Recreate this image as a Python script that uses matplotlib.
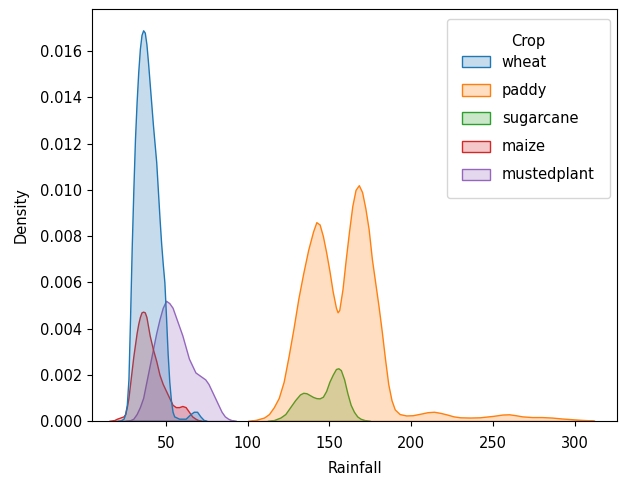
import matplotlib
matplotlib.use("Agg")
import matplotlib.pyplot as plt
from matplotlib.patches import Patch
from matplotlib.ticker import FormatStrFormatter

crops = ["wheat", "paddy", "sugarcane", "maize", "mustedplant"]
colors = ["#1f77b4", "#ff7f0e", "#2ca02c", "#d62728", "#9467bd"]

wheat_x = [20, 22, 24, 25, 26, 27, 28, 29, 30, 31, 32, 33, 34, 35, 36, 37, 38, 39, 40, 41, 42, 43, 44,
           45, 46, 47, 48, 49, 50, 51, 52, 53, 54, 55, 58, 62, 65, 67, 69, 71, 73, 75]
wheat_d = [0, 0.00002, 0.0001, 0.0003, 0.0007, 0.0018, 0.0045, 0.0075, 0.0100, 0.0122, 0.0138, 0.0151,
           0.0161, 0.0167, 0.0169, 0.0168, 0.0163, 0.0155, 0.0146, 0.0137, 0.0128, 0.0120, 0.0112,
           0.0100, 0.0088, 0.0077, 0.0068, 0.0060, 0.0045, 0.0029, 0.0017, 0.0009, 0.0004, 0.0002,
           0.0001, 0.0001, 0.0003, 0.0004, 0.0004, 0.0002, 0.00005, 0]

paddy_x = [100, 105, 110, 113, 116, 119, 122, 125, 128, 131, 134, 137, 140, 142, 144, 146, 148, 150,
           152, 154, 155, 156, 158, 160, 162, 164, 166, 168, 170, 172, 174, 176, 178, 180, 182, 184,
           186, 188, 190, 193, 197, 201, 206, 210, 214, 218, 222, 226, 230, 236, 242, 250, 256, 260,
           264, 268, 274, 280, 286, 292, 298, 304, 312]
paddy_d = [0, 0.00005, 0.00015, 0.0003, 0.0006, 0.0010, 0.0017, 0.0028, 0.0040, 0.0053, 0.0064, 0.0074,
           0.0082, 0.0086, 0.0085, 0.0080, 0.0073, 0.0065, 0.0056, 0.0049, 0.0047, 0.0048, 0.0057,
           0.0070, 0.0082, 0.0093, 0.0100, 0.0102, 0.0099, 0.0092, 0.0083, 0.0070, 0.0060, 0.0050,
           0.0039, 0.0027, 0.0016, 0.0009, 0.0005, 0.00030, 0.00024, 0.00025, 0.00032, 0.00038,
           0.00040, 0.00035, 0.00028, 0.00020, 0.00016, 0.00015, 0.00016, 0.00022, 0.00028, 0.00029,
           0.00025, 0.00020, 0.00017, 0.00017, 0.00015, 0.00011, 0.00008, 0.00005, 0.00002]

sugarcane_x = [112, 116, 120, 123, 126, 129, 132, 134, 136, 138, 140, 142, 144, 146, 148, 150, 152, 154,
               155.5, 157, 159, 161, 163, 165, 167, 169, 172, 175]
sugarcane_d = [0, 0.00004, 0.00015, 0.0003, 0.0006, 0.0009, 0.00115, 0.00122, 0.0012, 0.00112, 0.00104,
               0.00099, 0.00098, 0.00105, 0.0013, 0.0017, 0.0020, 0.00225, 0.00228, 0.0022, 0.0018,
               0.0012, 0.0007, 0.0004, 0.0002, 0.0001, 0.00003, 0]

maize_x = [15, 18, 20, 22, 24, 25, 26, 27, 28, 29, 30, 31, 32, 33, 34, 35, 36, 37, 38, 39, 40, 42, 44,
           45, 46, 48, 50, 52, 54, 56, 58, 60, 62, 64, 66, 68, 70, 72]
maize_d = [0, 0.00003, 0.0001, 0.00015, 0.0002, 0.0003, 0.0006, 0.0010, 0.0016, 0.0022, 0.0028, 0.0033,
           0.0038, 0.0042, 0.0045, 0.0047, 0.00473, 0.0047, 0.0045, 0.0041, 0.0037, 0.0031, 0.0026,
           0.0023, 0.0020, 0.0016, 0.0013, 0.0010, 0.0007, 0.0006, 0.0006, 0.00065, 0.0006, 0.0004,
           0.0002, 0.0001, 0.00003, 0]

mustedplant_x = [25, 28, 30, 32, 34, 36, 38, 40, 42, 44, 46, 48, 50, 52, 54, 56, 58, 60, 62, 64, 66, 68,
                 70, 72, 74, 76, 78, 80, 82, 84, 86, 88, 90, 93]
mustedplant_d = [0, 0.00003, 0.0001, 0.0003, 0.0006, 0.0010, 0.0017, 0.0024, 0.0031, 0.0038, 0.0044,
                 0.0049, 0.0052, 0.0051, 0.0049, 0.0045, 0.0041, 0.0037, 0.0032, 0.0027, 0.0024, 0.0021,
                 0.0020, 0.0019, 0.0018, 0.0016, 0.0013, 0.0010, 0.0007, 0.0004, 0.0002, 0.0001,
                 0.00004, 0]

series = {
    "wheat": (wheat_x, wheat_d),
    "paddy": (paddy_x, paddy_d),
    "sugarcane": (sugarcane_x, sugarcane_d),
    "maize": (maize_x, maize_d),
    "mustedplant": (mustedplant_x, mustedplant_d),
}

plt.rcParams["font.family"] = "DejaVu Sans"
fig = plt.figure(figsize=(6.19, 4.79), dpi=100)
ax = fig.add_axes([92 / 619, 58 / 479, 525 / 619, 412 / 479])

for crop, col in reversed(list(zip(crops, colors))):
    xs, ds = series[crop]
    ax.fill_between(xs, ds, 0, facecolor=matplotlib.colors.to_rgba(col, 0.25),
                    edgecolor=col, linewidth=1.0)

ax.set_xlim(4.7, 326)
ax.set_ylim(0, 0.01782)
ax.set_xticks([50, 100, 150, 200, 250, 300])
ax.set_yticks([0, 0.002, 0.004, 0.006, 0.008, 0.010, 0.012, 0.014, 0.016])
ax.yaxis.set_major_formatter(FormatStrFormatter("%.3f"))
ax.tick_params(labelsize=10.5)
ax.tick_params(axis="x", pad=7.5)
ax.set_xlabel("Rainfall", fontsize=10.5, labelpad=7)
ax.set_ylabel("Density", fontsize=10.5, labelpad=8)

handles = [Patch(facecolor=matplotlib.colors.to_rgba(c, 0.25), edgecolor=c, linewidth=1.0) for c in colors]
leg = ax.legend(handles, crops, title="Crop", loc="upper right",
                bbox_to_anchor=(610 / 619, (479 - 19) / 479), bbox_transform=fig.transFigure,
                borderaxespad=0, fontsize=10.5, title_fontsize=10.5,
                labelspacing=0.9, borderpad=1.05, handlelength=1.9, handleheight=0.8)
leg._legend_box.sep = 4

fig.savefig("out.png", dpi=100)
